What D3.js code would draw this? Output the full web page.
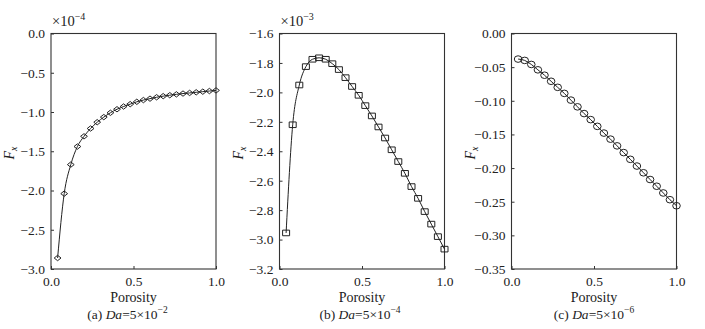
<!DOCTYPE html>
<html>
<head>
<meta charset="utf-8">
<script src="https://cdn.jsdelivr.net/npm/d3@7"></script>
<style>
  html, body { margin: 0; padding: 0; background: #fff; }
  svg { display: block; }
  svg text { font-family: "Liberation Serif", "DejaVu Serif", serif !important; fill: #222; }
</style>
</head>
<body>
<svg id="chart" width="705" height="329"></svg>
<script>
// Porosity sample points shared by all three panels
const porosity = [0.04, 0.08, 0.12, 0.16, 0.20, 0.24, 0.28, 0.32, 0.36, 0.40,
                  0.44, 0.48, 0.52, 0.56, 0.60, 0.64, 0.68, 0.72, 0.76, 0.80,
                  0.84, 0.88, 0.92, 0.96, 1.00];

// F_x for Da = 5e-2 (in units of 1e-4)
const fxDa2 = [-2.86, -2.04, -1.67, -1.44, -1.31, -1.21, -1.13, -1.065, -1.01, -0.965,
               -0.93, -0.90, -0.87, -0.848, -0.83, -0.812, -0.798, -0.786, -0.775, -0.765,
               -0.757, -0.749, -0.741, -0.733, -0.725];

// F_x for Da = 5e-4 (in units of 1e-3)
const fxDa4 = [-2.955, -2.22, -1.95, -1.825, -1.775, -1.765, -1.775, -1.805, -1.845, -1.90,
               -1.96, -2.02, -2.09, -2.16, -2.235, -2.31, -2.39, -2.47, -2.55, -2.64,
               -2.72, -2.81, -2.895, -2.98, -3.065];

// F_x for Da = 5e-6
const fxDa6 = [-0.038, -0.040, -0.046, -0.054, -0.062, -0.071, -0.080, -0.089, -0.099, -0.109,
               -0.119, -0.128, -0.138, -0.148, -0.157, -0.167, -0.177, -0.187, -0.197, -0.207,
               -0.217, -0.227, -0.237, -0.247, -0.256];

const xTicks = [0, 0.5, 1.0];
const yTicksA = [0, -0.5, -1.0, -1.5, -2.0, -2.5, -3.0];
const yTicksB = [-1.6, -1.8, -2.0, -2.2, -2.4, -2.6, -2.8, -3.0, -3.2];
const yTicksC = [0, -0.05, -0.10, -0.15, -0.20, -0.25, -0.30, -0.35];

const panels = [
  { left: 51,  values: fxDa2, yDomain: [-3.0, 0],  ticks: yTicksA, fmt: ".1f", exp: "−4",
    letter: "(a)", daExp: "−2", marker: "diamond", capShift: -6 },
  { left: 279.5, values: fxDa4, yDomain: [-3.2, -1.6], ticks: yTicksB, fmt: ".1f", exp: "−3",
    letter: "(b)", daExp: "−4", marker: "square", capShift: -2 },
  { left: 511.5, values: fxDa6, yDomain: [-0.35, 0], ticks: yTicksC, fmt: ".2f", exp: null,
    letter: "(c)", daExp: "−6", marker: "circle", capShift: 0 }
];

const plotW = 165, plotTop = 33.5, plotBottom = 269;
const ink = "#222";
const serif = "'Liberation Serif', 'DejaVu Serif', serif";
const svg = d3.select("#chart").attr("font-family", serif);

panels.forEach(p => {
  const x = d3.scaleLinear().domain([0, 1]).range([p.left, p.left + plotW]);
  const y = d3.scaleLinear().domain(p.yDomain).range([plotBottom, plotTop]);
  const g = svg.append("g");

  // frame
  g.append("rect")
    .attr("x", x(0)).attr("y", plotTop)
    .attr("width", plotW).attr("height", plotBottom - plotTop)
    .attr("fill", "none").attr("stroke", "#333").attr("stroke-width", 1.1);

  // axes with inward ticks
  const xAxis = g.append("g")
    .attr("transform", `translate(0,${plotBottom})`)
    .call(d3.axisBottom(x).tickValues(xTicks).tickFormat(d3.format(".1f"))
      .tickSizeInner(-3).tickSizeOuter(0).tickPadding(7));
  const yAxis = g.append("g")
    .attr("transform", `translate(${x(0)},0)`)
    .call(d3.axisLeft(y).tickValues(p.ticks).tickFormat(d3.format(p.fmt))
      .tickSizeInner(-3).tickSizeOuter(0).tickPadding(6));
  [xAxis, yAxis].forEach(a => {
    a.attr("font-family", serif).attr("font-size", 13.5);
    a.select(".domain").remove();
    a.selectAll("line").attr("stroke", "#333");
    a.selectAll("text").attr("fill", ink);
  });

  // exponent multiplier above the frame
  if (p.exp) {
    const t = g.append("text").attr("x", x(0) + 1).attr("y", 26)
      .attr("font-size", 14.5);
    t.append("tspan").text("×10");
    t.append("tspan").attr("dy", -6).attr("font-size", 10).text(p.exp);
  }

  // curve
  const line = d3.line().x((d, i) => x(porosity[i])).y(d => y(d)).curve(d3.curveMonotoneX);
  g.append("path").datum(p.values)
    .attr("d", line).attr("fill", "none").attr("stroke", ink).attr("stroke-width", 1);

  // markers
  const pts = g.append("g").selectAll("path").data(p.values).join("path")
    .attr("transform", (d, i) => `translate(${x(porosity[i])},${y(d)})`)
    .attr("fill", "none").attr("stroke", ink).attr("stroke-width", 1);
  if (p.marker === "diamond") {
    pts.attr("d", "M-3.4,0L0,-2.7L3.4,0L0,2.7Z");
  } else if (p.marker === "square") {
    pts.attr("d", "M-3.5,-2.8H3.5V2.8H-3.5Z");
  } else {
    pts.attr("d", "M-3.8,0A3.8,3.3 0 1,0 3.8,0A3.8,3.3 0 1,0 -3.8,0Z");
  }

  // y-axis title F_x
  const cx = x(0) - 37, cy = 153;
  const yl = g.append("text")
    .attr("transform", `translate(${cx},${cy}) rotate(-90)`)
    .attr("text-anchor", "middle").attr("font-size", 14);
  yl.append("tspan").attr("font-style", "italic").text("F");
  yl.append("tspan").attr("font-style", "italic").attr("font-size", 10).attr("dy", 3).text("x");

  // x-axis title
  const mid = p.left + plotW / 2;
  g.append("text").attr("x", mid).attr("y", 302)
    .attr("text-anchor", "middle").attr("font-size", 14).text("Porosity");

  // panel caption
  const cap = g.append("text").attr("x", mid + p.capShift).attr("y", 318.5)
    .attr("text-anchor", "middle").attr("font-size", 13.5);
  cap.append("tspan").text(p.letter + " ");
  cap.append("tspan").attr("font-style", "italic").text("Da");
  cap.append("tspan").text("=5×10");
  cap.append("tspan").attr("dy", -6).attr("font-size", 9.5).text(p.daExp);
});
</script>
</body>
</html>
